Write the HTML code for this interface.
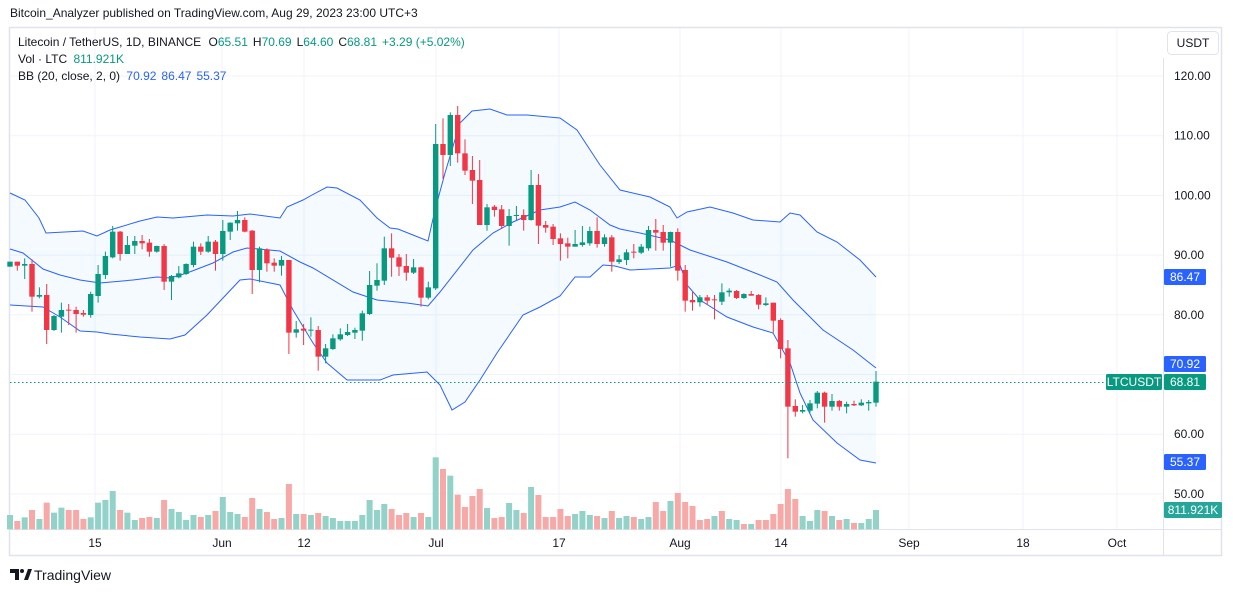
<!DOCTYPE html>
<html><head><meta charset="utf-8"><style>
html,body{margin:0;padding:0;background:#fff;width:1233px;height:592px;overflow:hidden}
svg{display:block;font-family:"Liberation Sans",sans-serif}
.g{fill:#089981}.r{fill:#f23645}.vg{fill:#92d2c9}.vr{fill:#f7a9a7}
.gl{stroke:#f0f3fa;stroke-width:1}
.b{fill:none;stroke:#2962ff;stroke-width:1}
</style></head><body>
<svg width="1233" height="592" xmlns="http://www.w3.org/2000/svg">
<rect x="9.5" y="27.5" width="1212" height="528" fill="#fff" stroke="#e0e3eb" stroke-width="1.5"/>
<g class="gl">
<line x1="10" x2="1163" y1="76" y2="76"/><line x1="10" x2="1163" y1="135.7" y2="135.7"/><line x1="10" x2="1163" y1="195.4" y2="195.4"/><line x1="10" x2="1163" y1="255.1" y2="255.1"/><line x1="10" x2="1163" y1="314.8" y2="314.8"/><line x1="10" x2="1163" y1="374.5" y2="374.5"/><line x1="10" x2="1163" y1="434.2" y2="434.2"/><line x1="10" x2="1163" y1="493.9" y2="493.9"/>
<line x1="95" x2="95" y1="28" y2="529"/><line x1="222" x2="222" y1="28" y2="529"/><line x1="304" x2="304" y1="28" y2="529"/><line x1="436" x2="436" y1="28" y2="529"/><line x1="559" x2="559" y1="28" y2="529"/><line x1="680" x2="680" y1="28" y2="529"/><line x1="781" x2="781" y1="28" y2="529"/><line x1="909" x2="909" y1="28" y2="529"/><line x1="1023" x2="1023" y1="28" y2="529"/><line x1="1117" x2="1117" y1="28" y2="529"/>
</g>
<g font-size="12" fill="#131722" text-anchor="middle">
<text x="95" y="547">15</text><text x="222" y="547">Jun</text><text x="304" y="547">12</text><text x="436" y="547">Jul</text><text x="559" y="547">17</text><text x="680" y="547">Aug</text><text x="781" y="547">14</text><text x="909" y="547">Sep</text><text x="1023" y="547">18</text><text x="1117" y="547">Oct</text>
</g>
<line x1="10" x2="1222" y1="529.5" y2="529.5" stroke="#e0e3eb"/>
<line x1="1163.5" x2="1163.5" y1="58" y2="556" stroke="#e0e3eb"/>

<polygon fill="#2196f3" fill-opacity="0.05" points="10,193 25,200 39,218 46,233 83,231 97,236 110,230 140,221 157,217 173,218 207,215 233,216 250,214 280,218 287,207 303,200 312,195 327,187 337,188 360,200 377,218 390,228 398,229 413,235 428,241 435,210 445,173 460,123 472,111 490,109 507,115 527,115 560,118 577,130 600,165 620,190 650,197 670,207 677,218 687,212 710,207 733,213 753,220 780,222 790,213 800,215 817,232 837,242 860,260 876,277 876,463 860,460 837,443 813,420 800,393 790,363 773,333 753,327 727,317 700,300 687,285 680,265 670,268 630,270 615,266 603,265 590,277 575,277 560,296 540,307 523,315 497,353 480,380 465,402 452,410 440,385 427,372 393,375 380,380 347,380 327,363 313,343 293,310 280,285 250,279 240,280 223,298 207,315 185,335 170,339 140,337 110,334 97,332 80,331 60,317 43,307 10,305"/>

<!-- volume -->
<g transform="translate(0,460) scale(1,0.33333)">
<rect class="vg" x="7" width="6" y="165" height="43"/><rect class="vr" x="14.3" width="6" y="183" height="25"/><rect class="vg" x="21.7" width="6" y="172" height="36"/><rect class="vr" x="29" width="6" y="150" height="58"/><rect class="vg" x="36.4" width="6" y="177" height="31"/><rect class="vr" x="43.7" width="6" y="128" height="80"/><rect class="vg" x="51" width="6" y="158" height="50"/><rect class="vg" x="58.4" width="6" y="143" height="65"/><rect class="vr" x="65.7" width="6" y="150" height="58"/><rect class="vr" x="73.1" width="6" y="150" height="58"/>
<rect class="vr" x="80.4" width="6" y="177" height="31"/><rect class="vg" x="87.7" width="6" y="172" height="36"/><rect class="vg" x="95.1" width="6" y="128" height="80"/><rect class="vg" x="102.4" width="6" y="120" height="88"/><rect class="vg" x="109.7" width="6" y="93" height="115"/><rect class="vr" x="117.1" width="6" y="150" height="58"/><rect class="vg" x="124.4" width="6" y="158" height="50"/><rect class="vg" x="131.8" width="6" y="180" height="28"/><rect class="vr" x="139.1" width="6" y="174" height="34"/><rect class="vr" x="146.4" width="6" y="171" height="37"/>
<rect class="vg" x="153.8" width="6" y="174" height="34"/><rect class="vr" x="161.1" width="6" y="120" height="88"/><rect class="vg" x="168.5" width="6" y="147" height="61"/><rect class="vg" x="175.8" width="6" y="156" height="52"/><rect class="vg" x="183.1" width="6" y="180" height="28"/><rect class="vg" x="190.5" width="6" y="165" height="43"/><rect class="vr" x="197.8" width="6" y="171" height="37"/><rect class="vg" x="205.2" width="6" y="165" height="43"/><rect class="vr" x="212.5" width="6" y="153" height="55"/><rect class="vg" x="219.8" width="6" y="111" height="97"/>
<rect class="vg" x="227.2" width="6" y="156" height="52"/><rect class="vg" x="234.5" width="6" y="162" height="46"/><rect class="vr" x="241.8" width="6" y="171" height="37"/><rect class="vr" x="249.2" width="6" y="114" height="94"/><rect class="vg" x="256.5" width="6" y="147" height="61"/><rect class="vr" x="263.9" width="6" y="156" height="52"/><rect class="vr" x="271.2" width="6" y="177" height="31"/><rect class="vg" x="278.5" width="6" y="174" height="34"/><rect class="vr" x="285.9" width="6" y="72" height="136"/><rect class="vg" x="293.2" width="6" y="162" height="46"/>
<rect class="vr" x="300.6" width="6" y="162" height="46"/><rect class="vg" x="307.9" width="6" y="165" height="43"/><rect class="vr" x="315.2" width="6" y="159" height="49"/><rect class="vg" x="322.6" width="6" y="168" height="40"/><rect class="vg" x="329.9" width="6" y="174" height="34"/><rect class="vg" x="337.3" width="6" y="183" height="25"/><rect class="vg" x="344.6" width="6" y="183" height="25"/><rect class="vg" x="351.9" width="6" y="183" height="25"/><rect class="vg" x="359.3" width="6" y="165" height="43"/><rect class="vg" x="366.6" width="6" y="120" height="88"/>
<rect class="vg" x="374" width="6" y="150" height="58"/><rect class="vg" x="381.3" width="6" y="132" height="76"/><rect class="vr" x="388.6" width="6" y="147" height="61"/><rect class="vr" x="396" width="6" y="165" height="43"/><rect class="vr" x="403.3" width="6" y="159" height="49"/><rect class="vg" x="410.6" width="6" y="171" height="37"/><rect class="vr" x="418" width="6" y="159" height="49"/><rect class="vg" x="425.3" width="6" y="171" height="37"/><rect class="vg" x="432.7" width="6" y="-8" height="216"/><rect class="vr" x="440" width="6" y="27" height="181"/>
<rect class="vg" x="447.3" width="6" y="47" height="161"/><rect class="vr" x="454.7" width="6" y="104" height="104"/><rect class="vr" x="462" width="6" y="141" height="67"/><rect class="vr" x="469.4" width="6" y="108" height="100"/><rect class="vr" x="476.7" width="6" y="87" height="121"/><rect class="vg" x="484" width="6" y="144" height="64"/><rect class="vr" x="491.4" width="6" y="174" height="34"/><rect class="vr" x="498.7" width="6" y="171" height="37"/><rect class="vg" x="506.1" width="6" y="129" height="79"/><rect class="vg" x="513.4" width="6" y="150" height="58"/>
<rect class="vr" x="520.7" width="6" y="159" height="49"/><rect class="vg" x="528.1" width="6" y="81" height="127"/><rect class="vr" x="535.4" width="6" y="105" height="103"/><rect class="vr" x="542.7" width="6" y="171" height="37"/><rect class="vr" x="550.1" width="6" y="171" height="37"/><rect class="vr" x="557.4" width="6" y="147" height="61"/><rect class="vr" x="564.8" width="6" y="168" height="40"/><rect class="vg" x="572.1" width="6" y="162" height="46"/><rect class="vg" x="579.4" width="6" y="153" height="55"/><rect class="vg" x="586.8" width="6" y="165" height="43"/>
<rect class="vr" x="594.1" width="6" y="168" height="40"/><rect class="vg" x="601.5" width="6" y="174" height="34"/><rect class="vr" x="608.8" width="6" y="153" height="55"/><rect class="vg" x="616.1" width="6" y="174" height="34"/><rect class="vg" x="623.5" width="6" y="168" height="40"/><rect class="vr" x="630.8" width="6" y="171" height="37"/><rect class="vg" x="638.2" width="6" y="177" height="31"/><rect class="vg" x="645.5" width="6" y="171" height="37"/><rect class="vr" x="652.8" width="6" y="126" height="82"/><rect class="vr" x="660.2" width="6" y="153" height="55"/>
<rect class="vg" x="667.5" width="6" y="123" height="85"/><rect class="vr" x="674.8" width="6" y="99" height="109"/><rect class="vr" x="682.2" width="6" y="126" height="82"/><rect class="vr" x="689.5" width="6" y="138" height="70"/><rect class="vr" x="696.9" width="6" y="180" height="28"/><rect class="vr" x="704.2" width="6" y="177" height="31"/><rect class="vg" x="711.5" width="6" y="168" height="40"/><rect class="vr" x="718.9" width="6" y="153" height="55"/><rect class="vg" x="726.2" width="6" y="177" height="31"/><rect class="vg" x="733.6" width="6" y="180" height="28"/>
<rect class="vr" x="740.9" width="6" y="192" height="16"/><rect class="vg" x="748.2" width="6" y="192" height="16"/><rect class="vr" x="755.6" width="6" y="180" height="28"/><rect class="vr" x="762.9" width="6" y="180" height="28"/><rect class="vr" x="770.3" width="6" y="162" height="46"/><rect class="vr" x="777.6" width="6" y="132" height="76"/><rect class="vr" x="784.9" width="6" y="87" height="121"/><rect class="vr" x="792.3" width="6" y="117" height="91"/><rect class="vg" x="799.6" width="6" y="168" height="40"/><rect class="vg" x="807" width="6" y="183" height="25"/>
<rect class="vg" x="814.3" width="6" y="150" height="58"/><rect class="vr" x="821.6" width="6" y="153" height="55"/><rect class="vg" x="829" width="6" y="168" height="40"/><rect class="vr" x="836.3" width="6" y="180" height="28"/><rect class="vg" x="843.6" width="6" y="177" height="31"/><rect class="vr" x="851" width="6" y="189" height="19"/><rect class="vg" x="858.3" width="6" y="189" height="19"/><rect class="vg" x="865.7" width="6" y="177" height="31"/><rect class="vg" x="873" width="6" y="150" height="58"/>
</g>

<polyline class="b" points="10,193 25,200 39,218 46,233 83,231 97,236 110,230 140,221 157,217 173,218 207,215 233,216 250,214 280,218 287,207 303,200 312,195 327,187 337,188 360,200 377,218 390,228 398,229 413,235 428,241 435,210 445,173 460,123 472,111 490,109 507,115 527,115 560,118 577,130 600,165 620,190 650,197 670,207 677,218 687,212 710,207 733,213 753,220 780,222 790,213 800,215 817,232 837,242 860,260 876,277"/>
<polyline class="b" points="10,249 23,253 43,269 60,275 80,280 100,283 133,280 157,277 170,278 187,273 213,263 233,252 247,248 280,251 300,262 313,268 353,292 377,300 407,303 428,306 440,292 473,250 493,233 513,222 540,210 560,207 575,202 590,210 610,225 620,229 640,233 670,240 690,250 727,262 760,275 777,282 793,300 823,330 853,350 876,368"/>
<polyline class="b" points="10,305 43,307 60,317 80,331 97,332 110,334 140,337 170,339 185,335 207,315 223,298 240,280 250,279 280,285 293,310 313,343 327,363 347,380 380,380 393,375 427,372 440,385 452,410 465,402 480,380 497,353 523,315 540,307 560,296 575,277 590,277 603,265 615,266 630,270 670,268 680,265 687,285 700,300 727,317 753,327 773,333 790,363 800,393 813,420 837,443 860,460 876,463"/>

<!-- candles part 1 -->
<g transform="translate(0,180) scale(1,0.33333)">
<g class="g" transform="translate(10,0)"><rect x="-.5" width="1" y="245" height="15"/><rect x="-2.7" width="5.4" y="245" height="15"/></g>
<g class="r" transform="translate(17.3,0)"><rect x="-.5" width="1" y="245" height="27"/><rect x="-2.7" width="5.4" y="245" height="12"/></g>
<g class="g" transform="translate(24.7,0)"><rect x="-.5" width="1" y="235" height="62"/><rect x="-2.7" width="5.4" y="252" height="5"/></g>
<g class="r" transform="translate(32,0)"><rect x="-.5" width="1" y="238" height="157"/><rect x="-2.7" width="5.4" y="252" height="98"/></g>
<g class="g" transform="translate(39.4,0)"><rect x="-.5" width="1" y="322" height="33"/><rect x="-2.7" width="5.4" y="345" height="5"/></g>
<g class="r" transform="translate(46.7,0)"><rect x="-.5" width="1" y="312" height="180"/><rect x="-2.7" width="5.4" y="345" height="105"/></g>
<g class="g" transform="translate(54,0)"><rect x="-.5" width="1" y="405" height="48"/><rect x="-2.7" width="5.4" y="408" height="42"/></g>
<g class="g" transform="translate(61.4,0)"><rect x="-.5" width="1" y="368" height="90"/><rect x="-2.7" width="5.4" y="390" height="20"/></g>
<g class="r" transform="translate(68.7,0)"><rect x="-.5" width="1" y="372" height="63"/><rect x="-2.7" width="5.4" y="389" height="3"/></g>
<g class="r" transform="translate(76.1,0)"><rect x="-.5" width="1" y="380" height="78"/><rect x="-2.7" width="5.4" y="390" height="12"/></g>
<g class="r" transform="translate(83.4,0)"><rect x="-.5" width="1" y="390" height="20"/><rect x="-2.7" width="5.4" y="399" height="5"/></g>
<g class="g" transform="translate(90.7,0)"><rect x="-.5" width="1" y="335" height="78"/><rect x="-2.7" width="5.4" y="342" height="63"/></g>
<g class="g" transform="translate(98.1,0)"><rect x="-.5" width="1" y="255" height="113"/><rect x="-2.7" width="5.4" y="282" height="66"/></g>
<g class="g" transform="translate(105.4,0)"><rect x="-.5" width="1" y="215" height="82"/><rect x="-2.7" width="5.4" y="228" height="57"/></g>
<g class="g" transform="translate(112.7,0)"><rect x="-.5" width="1" y="138" height="97"/><rect x="-2.7" width="5.4" y="155" height="77"/></g>
<g class="r" transform="translate(120.1,0)"><rect x="-.5" width="1" y="153" height="89"/><rect x="-2.7" width="5.4" y="155" height="67"/></g>
<g class="g" transform="translate(127.4,0)"><rect x="-.5" width="1" y="168" height="54"/><rect x="-2.7" width="5.4" y="195" height="27"/></g>
<g class="g" transform="translate(134.8,0)"><rect x="-.5" width="1" y="168" height="54"/><rect x="-2.7" width="5.4" y="183" height="14"/></g>
<g class="r" transform="translate(142.1,0)"><rect x="-.5" width="1" y="165" height="43"/><rect x="-2.7" width="5.4" y="183" height="7"/></g>
<g class="r" transform="translate(149.4,0)"><rect x="-.5" width="1" y="177" height="53"/><rect x="-2.7" width="5.4" y="188" height="27"/></g>
<g class="g" transform="translate(156.8,0)"><rect x="-.5" width="1" y="197" height="21"/><rect x="-2.7" width="5.4" y="198" height="17"/></g>
<g class="r" transform="translate(164.1,0)"><rect x="-.5" width="1" y="192" height="138"/><rect x="-2.7" width="5.4" y="198" height="107"/></g>
<g class="g" transform="translate(171.5,0)"><rect x="-.5" width="1" y="285" height="75"/><rect x="-2.7" width="5.4" y="288" height="17"/></g>
<g class="g" transform="translate(178.8,0)"><rect x="-.5" width="1" y="258" height="37"/><rect x="-2.7" width="5.4" y="280" height="12"/></g>
<g class="g" transform="translate(186.1,0)"><rect x="-.5" width="1" y="250" height="35"/><rect x="-2.7" width="5.4" y="252" height="30"/></g>
<g class="g" transform="translate(193.5,0)"><rect x="-.5" width="1" y="185" height="77"/><rect x="-2.7" width="5.4" y="200" height="55"/></g>
<g class="r" transform="translate(200.8,0)"><rect x="-.5" width="1" y="190" height="35"/><rect x="-2.7" width="5.4" y="200" height="15"/></g>
<g class="g" transform="translate(208.2,0)"><rect x="-.5" width="1" y="168" height="50"/><rect x="-2.7" width="5.4" y="185" height="30"/></g>
<g class="r" transform="translate(215.5,0)"><rect x="-.5" width="1" y="180" height="92"/><rect x="-2.7" width="5.4" y="185" height="37"/></g>
<g class="g" transform="translate(222.8,0)"><rect x="-.5" width="1" y="120" height="122"/><rect x="-2.7" width="5.4" y="153" height="69"/></g>
<g class="g" transform="translate(230.2,0)"><rect x="-.5" width="1" y="127" height="53"/><rect x="-2.7" width="5.4" y="128" height="27"/></g>
<g class="g" transform="translate(237.5,0)"><rect x="-.5" width="1" y="93" height="59"/><rect x="-2.7" width="5.4" y="120" height="10"/></g>
<g class="r" transform="translate(244.8,0)"><rect x="-.5" width="1" y="112" height="45"/><rect x="-2.7" width="5.4" y="120" height="35"/></g>
<g class="r" transform="translate(252.2,0)"><rect x="-.5" width="1" y="150" height="192"/><rect x="-2.7" width="5.4" y="152" height="118"/></g>
<g class="g" transform="translate(259.5,0)"><rect x="-.5" width="1" y="200" height="107"/><rect x="-2.7" width="5.4" y="205" height="65"/></g>
<g class="r" transform="translate(266.9,0)"><rect x="-.5" width="1" y="205" height="70"/><rect x="-2.7" width="5.4" y="208" height="42"/></g>
<g class="r" transform="translate(274.2,0)"><rect x="-.5" width="1" y="235" height="40"/><rect x="-2.7" width="5.4" y="248" height="9"/></g>
<g class="g" transform="translate(281.5,0)"><rect x="-.5" width="1" y="228" height="59"/><rect x="-2.7" width="5.4" y="240" height="17"/></g>
<g class="r" transform="translate(288.9,0)"><rect x="-.5" width="1" y="240" height="282"/><rect x="-2.7" width="5.4" y="240" height="218"/></g>
<g class="g" transform="translate(296.2,0)"><rect x="-.5" width="1" y="423" height="50"/><rect x="-2.7" width="5.4" y="448" height="10"/></g>
</g>

<!-- candles part 2 -->
<g transform="translate(0,100) scale(1,0.33333)">
<g class="r" transform="translate(303.6,0)"><rect x="-.5" width="1" y="672" height="63"/><rect x="-2.7" width="5.4" y="686" height="6"/></g>
<g class="g" transform="translate(310.9,0)"><rect x="-.5" width="1" y="652" height="58"/><rect x="-2.7" width="5.4" y="689" height="3"/></g>
<g class="r" transform="translate(318.2,0)"><rect x="-.5" width="1" y="678" height="134"/><rect x="-2.7" width="5.4" y="690" height="80"/></g>
<g class="g" transform="translate(325.6,0)"><rect x="-.5" width="1" y="732" height="58"/><rect x="-2.7" width="5.4" y="745" height="25"/></g>
<g class="g" transform="translate(332.9,0)"><rect x="-.5" width="1" y="703" height="47"/><rect x="-2.7" width="5.4" y="715" height="32"/></g>
<g class="g" transform="translate(340.3,0)"><rect x="-.5" width="1" y="685" height="37"/><rect x="-2.7" width="5.4" y="703" height="15"/></g>
<g class="g" transform="translate(347.6,0)"><rect x="-.5" width="1" y="672" height="36"/><rect x="-2.7" width="5.4" y="696" height="9"/></g>
<g class="g" transform="translate(354.9,0)"><rect x="-.5" width="1" y="683" height="34"/><rect x="-2.7" width="5.4" y="690" height="8"/></g>
<g class="g" transform="translate(362.3,0)"><rect x="-.5" width="1" y="632" height="90"/><rect x="-2.7" width="5.4" y="640" height="52"/></g>
<g class="g" transform="translate(369.6,0)"><rect x="-.5" width="1" y="513" height="132"/><rect x="-2.7" width="5.4" y="555" height="87"/></g>
<g class="g" transform="translate(377,0)"><rect x="-.5" width="1" y="490" height="82"/><rect x="-2.7" width="5.4" y="540" height="17"/></g>
<g class="g" transform="translate(384.3,0)"><rect x="-.5" width="1" y="410" height="145"/><rect x="-2.7" width="5.4" y="445" height="97"/></g>
<g class="r" transform="translate(391.6,0)"><rect x="-.5" width="1" y="400" height="130"/><rect x="-2.7" width="5.4" y="445" height="28"/></g>
<g class="r" transform="translate(399,0)"><rect x="-.5" width="1" y="462" height="66"/><rect x="-2.7" width="5.4" y="472" height="28"/></g>
<g class="r" transform="translate(406.3,0)"><rect x="-.5" width="1" y="462" height="80"/><rect x="-2.7" width="5.4" y="498" height="20"/></g>
<g class="g" transform="translate(413.6,0)"><rect x="-.5" width="1" y="477" height="45"/><rect x="-2.7" width="5.4" y="502" height="16"/></g>
<g class="r" transform="translate(421,0)"><rect x="-.5" width="1" y="500" height="120"/><rect x="-2.7" width="5.4" y="502" height="91"/></g>
<g class="g" transform="translate(428.3,0)"><rect x="-.5" width="1" y="545" height="53"/><rect x="-2.7" width="5.4" y="562" height="31"/></g>
<g class="g" transform="translate(435.7,0)"><rect x="-.5" width="1" y="72" height="498"/><rect x="-2.7" width="5.4" y="132" height="433"/></g>
<g class="r" transform="translate(443,0)"><rect x="-.5" width="1" y="55" height="182"/><rect x="-2.7" width="5.4" y="132" height="33"/></g>
<g class="g" transform="translate(450.3,0)"><rect x="-.5" width="1" y="37" height="161"/><rect x="-2.7" width="5.4" y="45" height="120"/></g>
<g class="r" transform="translate(457.7,0)"><rect x="-.5" width="1" y="18" height="170"/><rect x="-2.7" width="5.4" y="45" height="115"/></g>
<g class="r" transform="translate(465,0)"><rect x="-.5" width="1" y="118" height="107"/><rect x="-2.7" width="5.4" y="160" height="52"/></g>
<g class="r" transform="translate(472.4,0)"><rect x="-.5" width="1" y="168" height="144"/><rect x="-2.7" width="5.4" y="210" height="32"/></g>
<g class="r" transform="translate(479.7,0)"><rect x="-.5" width="1" y="180" height="195"/><rect x="-2.7" width="5.4" y="240" height="135"/></g>
<g class="g" transform="translate(487,0)"><rect x="-.5" width="1" y="312" height="80"/><rect x="-2.7" width="5.4" y="322" height="53"/></g>
<g class="r" transform="translate(494.4,0)"><rect x="-.5" width="1" y="315" height="35"/><rect x="-2.7" width="5.4" y="320" height="10"/></g>
<g class="r" transform="translate(501.7,0)"><rect x="-.5" width="1" y="315" height="72"/><rect x="-2.7" width="5.4" y="328" height="50"/></g>
<g class="g" transform="translate(509.1,0)"><rect x="-.5" width="1" y="327" height="110"/><rect x="-2.7" width="5.4" y="348" height="30"/></g>
<g class="g" transform="translate(516.4,0)"><rect x="-.5" width="1" y="318" height="42"/><rect x="-2.7" width="5.4" y="345" height="3"/></g>
<g class="r" transform="translate(523.7,0)"><rect x="-.5" width="1" y="328" height="64"/><rect x="-2.7" width="5.4" y="345" height="15"/></g>
<g class="g" transform="translate(531.1,0)"><rect x="-.5" width="1" y="210" height="152"/><rect x="-2.7" width="5.4" y="255" height="105"/></g>
<g class="r" transform="translate(538.4,0)"><rect x="-.5" width="1" y="222" height="210"/><rect x="-2.7" width="5.4" y="255" height="122"/></g>
<g class="r" transform="translate(545.7,0)"><rect x="-.5" width="1" y="363" height="35"/><rect x="-2.7" width="5.4" y="375" height="8"/></g>
<g class="r" transform="translate(553.1,0)"><rect x="-.5" width="1" y="372" height="63"/><rect x="-2.7" width="5.4" y="380" height="37"/></g>
<g class="r" transform="translate(560.4,0)"><rect x="-.5" width="1" y="400" height="82"/><rect x="-2.7" width="5.4" y="415" height="17"/></g>
<g class="r" transform="translate(567.8,0)"><rect x="-.5" width="1" y="413" height="62"/><rect x="-2.7" width="5.4" y="430" height="10"/></g>
<g class="g" transform="translate(575.1,0)"><rect x="-.5" width="1" y="390" height="50"/><rect x="-2.7" width="5.4" y="432" height="8"/></g>
</g>

<!-- candles part 3 -->
<g transform="translate(0,200) scale(1,0.33333)">
<g class="g" transform="translate(582.4,0)"><rect x="-.5" width="1" y="78" height="62"/><rect x="-2.7" width="5.4" y="127" height="8"/></g>
<g class="g" transform="translate(589.8,0)"><rect x="-.5" width="1" y="80" height="57"/><rect x="-2.7" width="5.4" y="93" height="37"/></g>
<g class="r" transform="translate(597.1,0)"><rect x="-.5" width="1" y="52" height="91"/><rect x="-2.7" width="5.4" y="93" height="39"/></g>
<g class="g" transform="translate(604.5,0)"><rect x="-.5" width="1" y="103" height="37"/><rect x="-2.7" width="5.4" y="112" height="20"/></g>
<g class="r" transform="translate(611.8,0)"><rect x="-.5" width="1" y="105" height="110"/><rect x="-2.7" width="5.4" y="112" height="73"/></g>
<g class="g" transform="translate(619.1,0)"><rect x="-.5" width="1" y="165" height="27"/><rect x="-2.7" width="5.4" y="178" height="8"/></g>
<g class="g" transform="translate(626.5,0)"><rect x="-.5" width="1" y="148" height="47"/><rect x="-2.7" width="5.4" y="157" height="23"/></g>
<g class="r" transform="translate(633.8,0)"><rect x="-.5" width="1" y="132" height="43"/><rect x="-2.7" width="5.4" y="155" height="3"/></g>
<g class="g" transform="translate(641.2,0)"><rect x="-.5" width="1" y="132" height="30"/><rect x="-2.7" width="5.4" y="140" height="18"/></g>
<g class="g" transform="translate(648.5,0)"><rect x="-.5" width="1" y="78" height="74"/><rect x="-2.7" width="5.4" y="90" height="55"/></g>
<g class="r" transform="translate(655.8,0)"><rect x="-.5" width="1" y="57" height="95"/><rect x="-2.7" width="5.4" y="90" height="8"/></g>
<g class="r" transform="translate(663.2,0)"><rect x="-.5" width="1" y="75" height="77"/><rect x="-2.7" width="5.4" y="96" height="32"/></g>
<g class="g" transform="translate(670.5,0)"><rect x="-.5" width="1" y="95" height="105"/><rect x="-2.7" width="5.4" y="96" height="32"/></g>
<g class="r" transform="translate(677.8,0)"><rect x="-.5" width="1" y="85" height="157"/><rect x="-2.7" width="5.4" y="96" height="116"/></g>
<g class="r" transform="translate(685.2,0)"><rect x="-.5" width="1" y="195" height="140"/><rect x="-2.7" width="5.4" y="210" height="92"/></g>
<g class="r" transform="translate(692.5,0)"><rect x="-.5" width="1" y="275" height="57"/><rect x="-2.7" width="5.4" y="300" height="7"/></g>
<g class="g" transform="translate(699.9,0)"><rect x="-.5" width="1" y="285" height="35"/><rect x="-2.7" width="5.4" y="292" height="15"/></g>
<g class="r" transform="translate(707.2,0)"><rect x="-.5" width="1" y="285" height="30"/><rect x="-2.7" width="5.4" y="292" height="10"/></g>
<g class="r" transform="translate(714.5,0)"><rect x="-.5" width="1" y="285" height="73"/><rect x="-2.7" width="5.4" y="298" height="3"/></g>
<g class="g" transform="translate(721.9,0)"><rect x="-.5" width="1" y="250" height="65"/><rect x="-2.7" width="5.4" y="277" height="28"/></g>
<g class="g" transform="translate(729.2,0)"><rect x="-.5" width="1" y="265" height="25"/><rect x="-2.7" width="5.4" y="272" height="5"/></g>
<g class="r" transform="translate(736.6,0)"><rect x="-.5" width="1" y="270" height="27"/><rect x="-2.7" width="5.4" y="273" height="21"/></g>
<g class="g" transform="translate(743.9,0)"><rect x="-.5" width="1" y="280" height="17"/><rect x="-2.7" width="5.4" y="282" height="12"/></g>
<g class="r" transform="translate(751.2,0)"><rect x="-.5" width="1" y="273" height="14"/><rect x="-2.7" width="5.4" y="282" height="5"/></g>
<g class="r" transform="translate(758.6,0)"><rect x="-.5" width="1" y="282" height="46"/><rect x="-2.7" width="5.4" y="285" height="29"/></g>
<g class="g" transform="translate(765.9,0)"><rect x="-.5" width="1" y="292" height="26"/><rect x="-2.7" width="5.4" y="310" height="5"/></g>
<g class="r" transform="translate(773.3,0)"><rect x="-.5" width="1" y="308" height="90"/><rect x="-2.7" width="5.4" y="308" height="54"/></g>
<g class="r" transform="translate(780.6,0)"><rect x="-.5" width="1" y="355" height="120"/><rect x="-2.7" width="5.4" y="360" height="87"/></g>
<g class="r" transform="translate(787.9,0)"><rect x="-.5" width="1" y="420" height="355"/><rect x="-2.7" width="5.4" y="445" height="175"/></g>
<g class="r" transform="translate(795.3,0)"><rect x="-.5" width="1" y="598" height="52"/><rect x="-2.7" width="5.4" y="618" height="17"/></g>
<g class="g" transform="translate(802.6,0)"><rect x="-.5" width="1" y="615" height="25"/><rect x="-2.7" width="5.4" y="630" height="5"/></g>
<g class="g" transform="translate(810,0)"><rect x="-.5" width="1" y="600" height="38"/><rect x="-2.7" width="5.4" y="610" height="22"/></g>
<g class="g" transform="translate(817.3,0)"><rect x="-.5" width="1" y="573" height="52"/><rect x="-2.7" width="5.4" y="578" height="33"/></g>
<g class="r" transform="translate(824.6,0)"><rect x="-.5" width="1" y="575" height="93"/><rect x="-2.7" width="5.4" y="578" height="42"/></g>
<g class="g" transform="translate(832,0)"><rect x="-.5" width="1" y="582" height="50"/><rect x="-2.7" width="5.4" y="603" height="17"/></g>
<g class="r" transform="translate(839.3,0)"><rect x="-.5" width="1" y="600" height="32"/><rect x="-2.7" width="5.4" y="603" height="17"/></g>
<g class="g" transform="translate(846.6,0)"><rect x="-.5" width="1" y="605" height="35"/><rect x="-2.7" width="5.4" y="612" height="8"/></g>
<g class="r" transform="translate(854,0)"><rect x="-.5" width="1" y="602" height="16"/><rect x="-2.7" width="5.4" y="612" height="4"/></g>
<g class="g" transform="translate(861.3,0)"><rect x="-.5" width="1" y="598" height="20"/><rect x="-2.7" width="5.4" y="608" height="8"/></g>
<g class="g" transform="translate(868.7,0)"><rect x="-.5" width="1" y="600" height="32"/><rect x="-2.7" width="5.4" y="606" height="4"/></g>
<g class="g" transform="translate(876,0)"><rect x="-.5" width="1" y="513" height="107"/><rect x="-2.7" width="5.4" y="545" height="63"/></g>
</g>

<line x1="10" x2="1106" y1="382.5" y2="382.5" stroke="#089981" stroke-dasharray="1.5,2.5"/>

<g font-size="12" fill="#131722">
<text x="1174" y="80">120.00</text><text x="1174" y="139.7">110.00</text><text x="1174" y="199.4">100.00</text><text x="1174" y="259.1">90.00</text><text x="1174" y="318.8">80.00</text><text x="1174" y="438.2">60.00</text><text x="1174" y="497.9">50.00</text>
</g>
<g font-size="12" fill="#fff" text-anchor="middle">
<rect x="1164" y="269" width="42" height="16" rx="1.5" fill="#2962ff"/><text x="1185" y="281">86.47</text>
<rect x="1164" y="356" width="42" height="16" rx="1.5" fill="#2962ff"/><text x="1185" y="368">70.92</text>
<rect x="1164" y="374" width="42" height="16" rx="1.5" fill="#089981"/><text x="1185" y="386">68.81</text>
<rect x="1106" y="374" width="56" height="16" rx="1.5" fill="#089981"/><text x="1134" y="386">LTCUSDT</text>
<rect x="1164" y="454" width="42" height="16" rx="1.5" fill="#2962ff"/><text x="1185" y="466">55.37</text>
<rect x="1164" y="502" width="58" height="16" rx="1.5" fill="#26a69a"/><text x="1193" y="514">811.921K</text>
</g>
<rect x="1167.5" y="31.5" width="51" height="23" rx="4" fill="#fff" stroke="#e0e3eb"/>
<text x="1193" y="47" font-size="12" fill="#131722" text-anchor="middle">USDT</text>

<text x="10" y="17" font-size="12" fill="#131722">Bitcoin_Analyzer published on TradingView.com, Aug 29, 2023 23:00 UTC+3</text>
<text x="18" y="46" font-size="12" fill="#131722">Litecoin / TetherUS, 1D, BINANCE <tspan dx="4">O</tspan><tspan fill="#089981">65.51</tspan><tspan dx="5">H</tspan><tspan fill="#089981">70.69</tspan><tspan dx="5">L</tspan><tspan fill="#089981">64.60</tspan><tspan dx="5">C</tspan><tspan fill="#089981">68.81</tspan><tspan dx="5" fill="#089981">+3.29 (+5.02%)</tspan></text>
<text x="18" y="63" font-size="12" fill="#131722">Vol · LTC <tspan dx="3" fill="#089981">811.921K</tspan></text>
<text x="18" y="80" font-size="12" fill="#131722">BB (20, close, 2, 0) <tspan dx="3" fill="#2962ff">70.92</tspan><tspan dx="5" fill="#2962ff">86.47</tspan><tspan dx="5" fill="#2962ff">55.37</tspan></text>

<path d="M10 569h9v11h-4v-7h-5z" fill="#131722"/><circle cx="22" cy="571" r="2" fill="#131722"/><path d="M24 580l4-11h4l-4 11z" fill="#131722"/>
<text x="34" y="580" font-size="14" fill="#131722">TradingView</text>
</svg>
</body></html>
